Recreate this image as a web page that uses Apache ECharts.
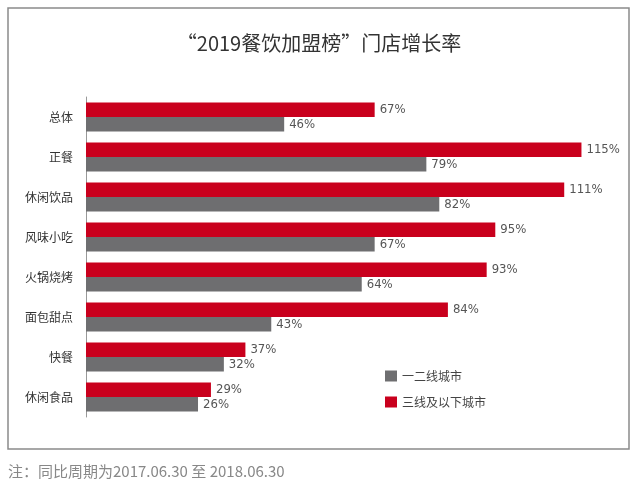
<!DOCTYPE html>
<html>
<head>
<meta charset="utf-8">
<style>
html,body{margin:0;padding:0;background:#fff;}
#chart{width:638px;height:490px;}
</style>
<script src="https://cdn.jsdelivr.net/npm/echarts@6/dist/echarts.min.js"></script>
</head>
<body>
<div id="chart"></div>
<script>
var categories = ['总体', '正餐', '休闲饮品', '风味小吃', '火锅烧烤', '面包甜点', '快餐', '休闲食品'];
var tier12 = [46, 79, 82, 67, 64, 43, 32, 26];
var tier3 = [67, 115, 111, 95, 93, 84, 37, 29];
var seriesNames = ['一二线城市', '三线及以下城市'];

var chart = echarts.init(document.getElementById('chart'));
var labelStyle = {
  show: true,
  position: 'right',
  distance: 5,
  formatter: '{c}%',
  color: '#555',
  fontSize: 13,
  fontFamily: '"Liberation Sans Narrow", "DejaVu Sans Condensed", sans-serif'
};
chart.setOption({
  backgroundColor: '#fff',
  animation: false,
  title: {
    text: '“2019餐饮加盟榜”门店增长率',
    left: 'center',
    top: 28,
    textStyle: {
      fontFamily: '"Noto Sans CJK SC", sans-serif',
      fontWeight: 'normal',
      fontSize: 20,
      color: '#333'
    }
  },
  legend: {
    orient: 'vertical',
    left: 380,
    top: 365,
    icon: 'rect',
    itemWidth: 12,
    itemHeight: 11,
    itemGap: 14,
    data: seriesNames,
    textStyle: { fontFamily: '"Noto Sans CJK SC", sans-serif', fontSize: 12, color: '#444' }
  },
  grid: { left: 86, top: 97, bottom: 73, width: 517, containLabel: false },
  xAxis: {
    type: 'value', min: 0, max: 120,
    show: false
  },
  yAxis: {
    type: 'category',
    inverse: true,
    data: categories,
    axisLine: { show: true, lineStyle: { color: '#999', width: 1 } },
    axisTick: { show: false },
    axisLabel: {
      margin: 13,
      color: '#333',
      fontSize: 12,
      fontFamily: '"Noto Sans CJK SC", sans-serif'
    }
  },
  series: [
    {
      name: seriesNames[1], type: 'bar', data: tier3,
      barWidth: 14.5, barGap: '0%',
      itemStyle: { color: '#c9001d' },
      label: labelStyle
    },
    {
      name: seriesNames[0], type: 'bar', data: tier12,
      barWidth: 14.5, barGap: '0%',
      itemStyle: { color: '#6e6e70' },
      label: labelStyle
    }
  ],
  graphic: [
    {
      type: 'rect',
      shape: { x: 8, y: 8, width: 621, height: 441 },
      style: { fill: 'none', stroke: '#8a8a8a', lineWidth: 1.5 },
      silent: true
    },
    {
      type: 'text',
      left: 8, top: 464,
      style: {
        text: '注：同比周期为2017.06.30 至 2018.06.30',
        fill: '#888',
        fontSize: 15,
        fontFamily: '"Noto Sans CJK SC", sans-serif'
      }
    }
  ]
});
</script>
</body>
</html>
